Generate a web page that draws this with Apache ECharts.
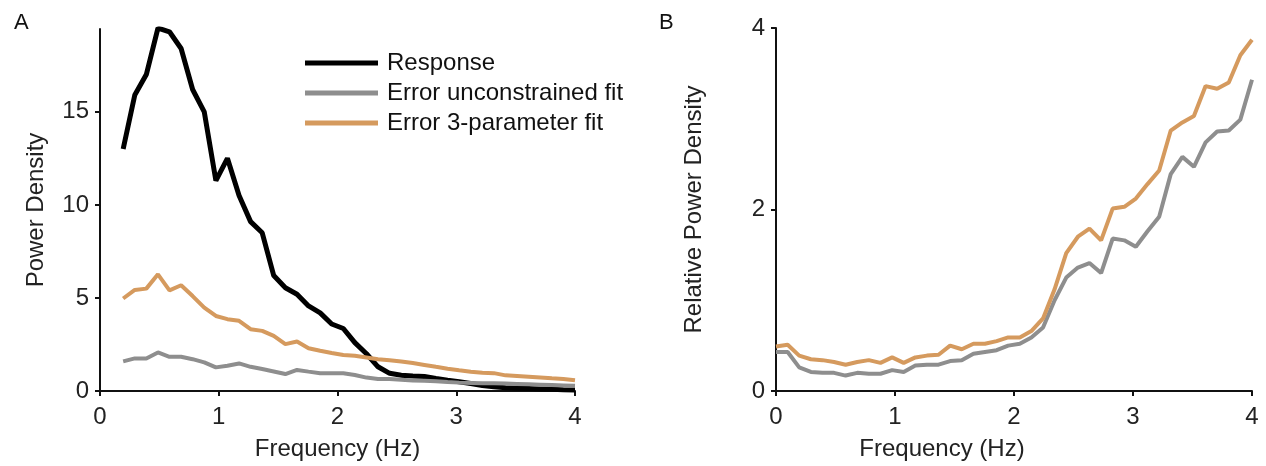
<!DOCTYPE html>
<html lang="en">
<head>
    <meta charset="UTF-8">
    <title>Power density spectra</title>
    <script src="https://cdn.jsdelivr.net/npm/echarts@6/dist/echarts.min.js"></script>
    <style>
        html, body { margin: 0; padding: 0; background: #fff; }
        .chart { width: 1266px; height: 466px; }
    </style>
</head>
<body>
<div class="chart"></div>
<script>
    // frequency bins (Hz), 0 .. 4
    let freqs = [0, 0.098, 0.195, 0.293, 0.39, 0.488, 0.585, 0.683, 0.78, 0.878,
        0.976, 1.073, 1.171, 1.268, 1.366, 1.463, 1.561, 1.659, 1.756, 1.854,
        1.951, 2.049, 2.146, 2.244, 2.341, 2.439, 2.537, 2.634, 2.732, 2.829,
        2.927, 3.024, 3.122, 3.22, 3.317, 3.415, 3.512, 3.61, 3.707, 3.805,
        3.902, 4.0];

    // panel A starts at the third bin (0.195 Hz)
    let responseA = [13.0, 15.9, 17.0, 19.5, 19.3, 18.4, 16.2, 15.0, 11.3, 12.5,
        10.5, 9.1, 8.5, 6.2, 5.55, 5.2, 4.57, 4.2, 3.6, 3.36,
        2.6, 2.0, 1.3, 0.95, 0.85, 0.81, 0.78, 0.67, 0.58, 0.5,
        0.4, 0.3, 0.23, 0.18, 0.15, 0.13, 0.11, 0.09, 0.07, 0.06];
    let unconstrainedA = [1.59, 1.75, 1.75, 2.07, 1.84, 1.84, 1.71, 1.54, 1.27, 1.36,
        1.48, 1.3, 1.18, 1.05, 0.91, 1.13, 1.04, 0.95, 0.95, 0.95,
        0.86, 0.72, 0.64, 0.64, 0.6, 0.57, 0.55, 0.52, 0.48, 0.45,
        0.43, 0.41, 0.41, 0.4, 0.38, 0.36, 0.34, 0.32, 0.3, 0.28];
    let threeParamA = [4.97, 5.43, 5.5, 6.27, 5.41, 5.68, 5.1, 4.48, 4.03, 3.86,
        3.77, 3.32, 3.23, 2.96, 2.52, 2.66, 2.3, 2.16, 2.04, 1.93,
        1.89, 1.8, 1.71, 1.65, 1.58, 1.5, 1.4, 1.3, 1.2, 1.12,
        1.04, 0.98, 0.96, 0.84, 0.8, 0.76, 0.72, 0.68, 0.65, 0.58];

    // panel B covers all bins
    let unconstrainedB = [0.43, 0.43, 0.26, 0.21, 0.2, 0.2, 0.17, 0.2, 0.19, 0.19,
        0.23, 0.21, 0.28, 0.29, 0.29, 0.33, 0.34, 0.41, 0.43, 0.45,
        0.5, 0.52, 0.59, 0.7, 1.0, 1.25, 1.36, 1.41, 1.3, 1.68,
        1.66, 1.59, 1.76, 1.92, 2.39, 2.58, 2.47, 2.74, 2.86, 2.87,
        2.99, 3.43];
    let threeParamB = [0.49, 0.51, 0.39, 0.35, 0.34, 0.32, 0.29, 0.32, 0.34, 0.31,
        0.37, 0.31, 0.37, 0.39, 0.4, 0.5, 0.46, 0.52, 0.52, 0.55,
        0.59, 0.59, 0.66, 0.8, 1.12, 1.52, 1.7, 1.79, 1.66, 2.01,
        2.03, 2.12, 2.28, 2.43, 2.87, 2.96, 3.03, 3.36, 3.33, 3.4,
        3.7, 3.87];

    let xTicks = [0, 1, 2, 3, 4];
    let yTicksA = [0, 5, 10, 15];
    let yTicksB = [0, 2, 4];

    let names = ['Response', 'Error unconstrained fit', 'Error 3-parameter fit'];
    let colors = ['#000000', '#8e8e8e', '#d59a5e'];

    const font = 'Liberation Sans, Arial, Helvetica, sans-serif';

    let pairs = (xs, ys) => ys.map((v, i) => [xs[i], v]);

    let xAxisBase = {
        type: 'value',
        min: 0,
        max: 4,
        interval: 1,
        nameLocation: 'middle',
        nameGap: 46,
        nameTextStyle: {color: '#222', fontSize: 24, fontFamily: font},
        axisLine: {onZero: false, lineStyle: {color: '#111', width: 2}},
        axisTick: {length: 5, lineStyle: {color: '#111', width: 2}, customValues: xTicks},
        axisLabel: {color: '#222', fontSize: 24, fontFamily: font, margin: 14, customValues: xTicks},
        splitLine: {show: false}
    };

    let yAxisBase = {
        type: 'value',
        min: 0,
        nameLocation: 'middle',
        nameRotate: 90,
        nameTextStyle: {color: '#222', fontSize: 24, fontFamily: font},
        axisLine: {show: true, lineStyle: {color: '#111', width: 2}},
        axisTick: {show: true, length: 5, lineStyle: {color: '#111', width: 2}},
        axisLabel: {color: '#222', fontSize: 24, fontFamily: font, margin: 11},
        splitLine: {show: false}
    };

    let chart = echarts.init(document.querySelector('.chart'), null, {renderer: 'canvas'});

    let option = {
        animation: false,
        backgroundColor: '#fff',
        title: [
            {text: 'A', left: 9, top: 7, textStyle: {fontSize: 22, fontWeight: 'normal', color: '#111', fontFamily: font}},
            {text: 'B', left: 654, top: 7, textStyle: {fontSize: 22, fontWeight: 'normal', color: '#111', fontFamily: font}}
        ],
        legend: {
            orient: 'vertical',
            left: 300,
            top: 46,
            itemWidth: 73,
            itemHeight: 5,
            itemGap: 6,
            icon: 'rect',
            data: names,
            textStyle: {color: '#111', fontSize: 24, lineHeight: 24, fontFamily: font, padding: [0, 0, 0, 4]}
        },
        grid: [
            {left: 100, top: 29, width: 475, height: 363},
            {left: 776, top: 28, width: 476, height: 366}
        ],
        xAxis: [
            Object.assign({}, xAxisBase, {gridIndex: 0, name: 'Frequency (Hz)'}),
            Object.assign({}, xAxisBase, {
                gridIndex: 1,
                name: 'Frequency (Hz)',
                nameTextStyle: Object.assign({}, xAxisBase.nameTextStyle, {padding: [0, 144, 0, 0]})
            })
        ],
        yAxis: [
            Object.assign({}, yAxisBase, {
                gridIndex: 0,
                max: 19.45,
                name: 'Power Density',
                nameGap: 52,
                axisTick: Object.assign({}, yAxisBase.axisTick, {customValues: yTicksA}),
                axisLabel: Object.assign({}, yAxisBase.axisLabel, {customValues: yTicksA})
            }),
            Object.assign({}, yAxisBase, {
                gridIndex: 1,
                max: 4,
                name: 'Relative Power Density',
                nameGap: 70,
                axisTick: Object.assign({}, yAxisBase.axisTick, {customValues: yTicksB}),
                axisLabel: Object.assign({}, yAxisBase.axisLabel, {customValues: yTicksB})
            })
        ],
        series: [
            {name: names[0], type: 'line', xAxisIndex: 0, yAxisIndex: 0, data: pairs(freqs.slice(2), responseA),
                showSymbol: false, symbol: 'none', color: colors[0], lineStyle: {width: 5, color: colors[0]}},
            {name: names[1], type: 'line', xAxisIndex: 0, yAxisIndex: 0, data: pairs(freqs.slice(2), unconstrainedA),
                showSymbol: false, symbol: 'none', color: colors[1], lineStyle: {width: 4, color: colors[1]}},
            {name: names[2], type: 'line', xAxisIndex: 0, yAxisIndex: 0, data: pairs(freqs.slice(2), threeParamA),
                showSymbol: false, symbol: 'none', color: colors[2], lineStyle: {width: 4, color: colors[2]}},
            {name: names[1], type: 'line', xAxisIndex: 1, yAxisIndex: 1, data: pairs(freqs, unconstrainedB),
                showSymbol: false, symbol: 'none', color: colors[1], lineStyle: {width: 4, color: colors[1]}},
            {name: names[2], type: 'line', xAxisIndex: 1, yAxisIndex: 1, data: pairs(freqs, threeParamB),
                showSymbol: false, symbol: 'none', color: colors[2], lineStyle: {width: 4, color: colors[2]}}
        ]
    };

    chart.setOption(option);
</script>
</body>
</html>
